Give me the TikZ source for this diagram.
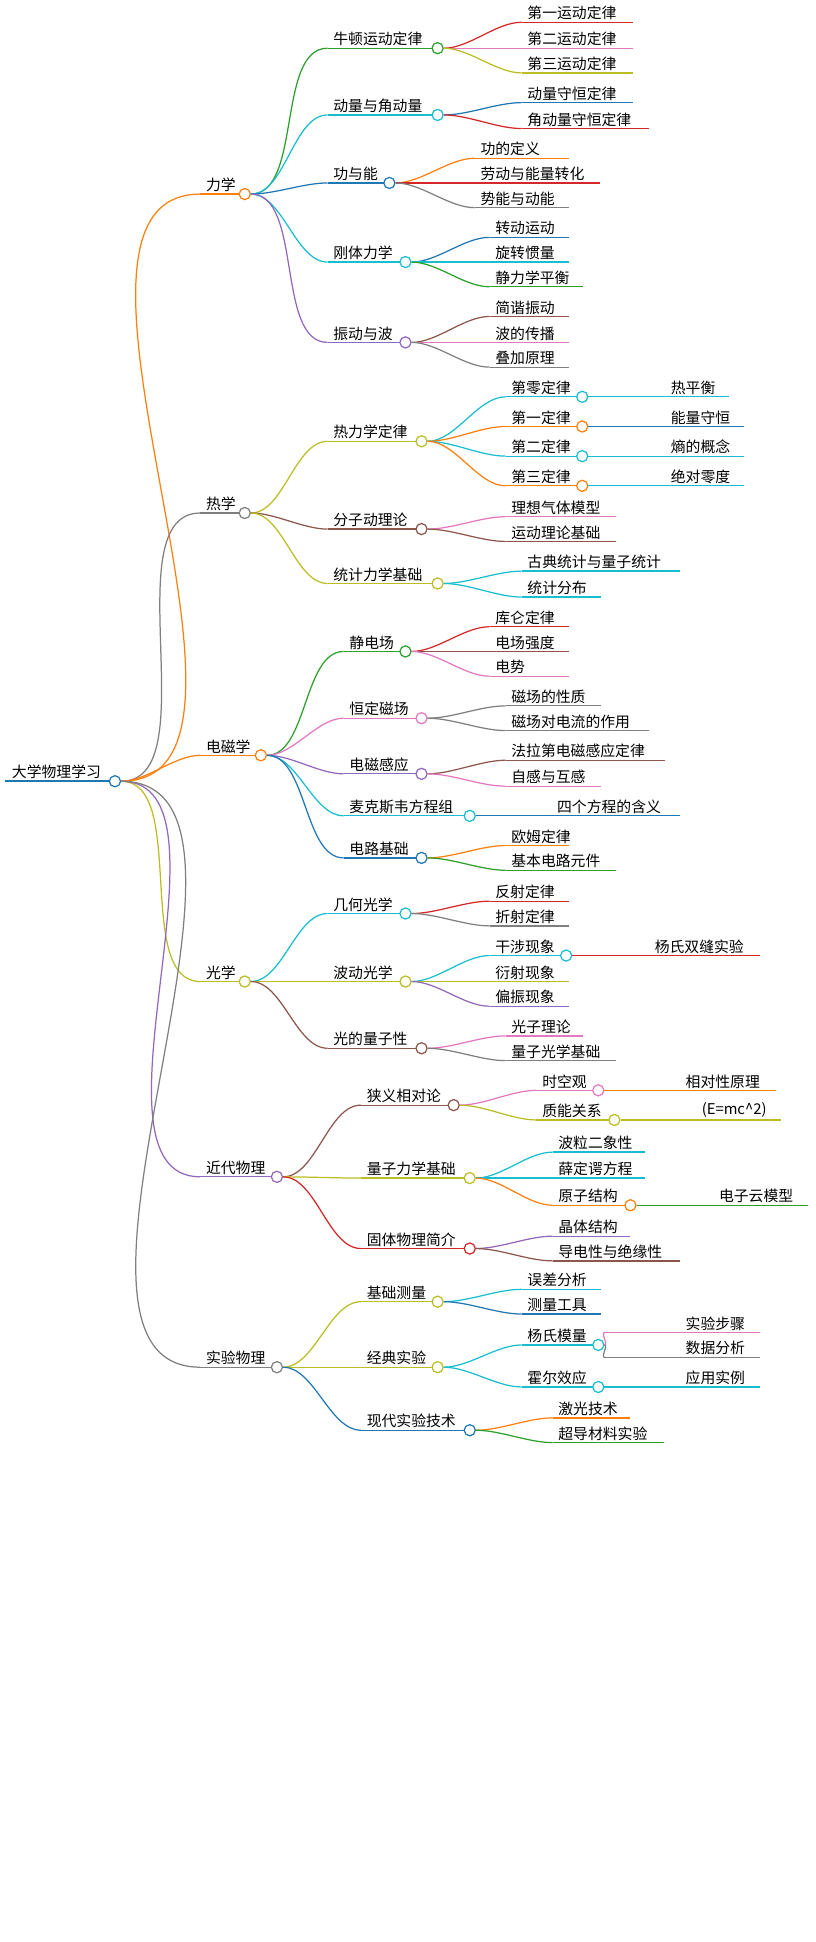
\documentclass[tikz,border=0pt]{standalone}
\usepackage{fontspec}
\newfontfamily\cjk{Noto Sans CJK SC}
\definecolor{cR}{HTML}{D62728}\definecolor{cP}{HTML}{E377C2}\definecolor{cO}{HTML}{BCBD22}
\definecolor{cB}{HTML}{1F77B4}\definecolor{cC}{HTML}{17BECF}\definecolor{cA}{HTML}{FF7F0E}
\definecolor{cG}{HTML}{2CA02C}\definecolor{cY}{HTML}{7F7F7F}\definecolor{cU}{HTML}{9467BD}
\definecolor{cN}{HTML}{8C564B}
\tikzset{edge/.style={line width=1pt},
 lbl/.style={anchor=south west,inner sep=1.5pt,font=\cjk\fontsize{12}{13}\selectfont},
 knob/.style={circle,fill=white,line width=1pt,minimum size=9pt,inner sep=0pt}}
% parent,name,x0,tx,x1,y,color,text,circle
\newcommand\nd[9]{%
 \coordinate (#2-w) at (#3,#6); \coordinate (#2-e) at (#5,#6);
 \draw[edge,#7] (#2-w) -- (#2-e);
 \node[lbl] (#2-t) at (#4,#6) {#8};
 \draw[edge,#7] (#1-c.east) to[out=0,in=180,looseness=0.8] (#2-w);
 \ifnum#9=1 \node[knob,draw=#7] (#2-c) at (#2-e) {};\fi}
\begin{document}
\begin{tikzpicture}[x=1pt,y=-1pt]
\useasboundingbox (0,0) rectangle (660,1571);
\coordinate (r-w) at (4,632); \coordinate (r-e) at (93,632);
\draw[cB,line width=2pt] (r-w) -- (r-e);
\node[lbl] (r-t) at (8,632) {大学物理学习};
\node[knob,draw=cB] (r-c) at (r-e) {};
% level 1
\nd{r}{a}{162}{165}{198}{157}{cA}{力学}{1}
\nd{r}{b}{162}{165}{198}{415}{cY}{热学}{1}
\nd{r}{c}{162}{165}{211}{611}{cA}{电磁学}{1}
\nd{r}{d}{162}{165}{198}{794}{cO}{光学}{1}
\nd{r}{e}{162}{165}{224}{952}{cU}{近代物理}{1}
\nd{r}{f}{162}{165}{224}{1106}{cY}{实验物理}{1}
% 力学
\nd{a}{a1}{265}{268}{354}{39}{cG}{牛顿运动定律}{1}
\nd{a}{a2}{265}{268}{354}{93}{cC}{动量与角动量}{1}
\nd{a}{a3}{265}{268}{315}{148}{cB}{功与能}{1}
\nd{a}{a4}{265}{268}{328}{212}{cC}{刚体力学}{1}
\nd{a}{a5}{265}{268}{328}{277}{cU}{振动与波}{1}
\nd{a1}{a11}{422}{425}{512}{18}{cR}{第一运动定律}{0}
\nd{a1}{a12}{422}{425}{512}{39}{cP}{第二运动定律}{0}
\nd{a1}{a13}{422}{425}{512}{59}{cO}{第三运动定律}{0}
\nd{a2}{a21}{422}{425}{512}{83}{cB}{动量守恒定律}{0}
\nd{a2}{a22}{422}{425}{525}{104}{cR}{角动量守恒定律}{0}
\nd{a3}{a31}{384}{387}{460}{128}{cA}{功的定义}{0}
\nd{a3}{a32}{384}{387}{485}{148}{cR}{劳动与能量转化}{0}
\nd{a3}{a33}{384}{387}{460}{168}{cY}{势能与动能}{0}
\nd{a4}{a41}{396}{399}{460}{192}{cB}{转动运动}{0}
\nd{a4}{a42}{396}{399}{460}{212}{cC}{旋转惯量}{0}
\nd{a4}{a43}{396}{399}{472}{232}{cG}{静力学平衡}{0}
\nd{a5}{a51}{396}{399}{460}{256}{cN}{简谐振动}{0}
\nd{a5}{a52}{396}{399}{460}{277}{cP}{波的传播}{0}
\nd{a5}{a53}{396}{399}{460}{297}{cY}{叠加原理}{0}
% 热学
\nd{b}{b1}{265}{268}{341}{357}{cO}{热力学定律}{1}
\nd{b}{b2}{265}{268}{341}{428}{cN}{分子动理论}{1}
\nd{b}{b3}{265}{268}{354}{472}{cO}{统计力学基础}{1}
\nd{b1}{b11}{409}{412}{471}{321}{cC}{第零定律}{1}
\nd{b1}{b12}{409}{412}{471}{345}{cA}{第一定律}{1}
\nd{b1}{b13}{409}{412}{471}{369}{cC}{第二定律}{1}
\nd{b1}{b14}{409}{412}{471}{393}{cA}{第三定律}{1}
\nd{b11}{b111}{476}{541}{590}{321}{cC}{热平衡}{0}
\nd{b12}{b121}{476}{541}{602}{345}{cB}{能量守恒}{0}
\nd{b13}{b131}{476}{541}{602}{369}{cC}{熵的概念}{0}
\nd{b14}{b141}{476}{541}{602}{393}{cC}{绝对零度}{0}
\nd{b2}{b21}{409}{412}{498}{418}{cP}{理想气体模型}{0}
\nd{b2}{b22}{409}{412}{498}{438}{cN}{运动理论基础}{0}
\nd{b3}{b31}{422}{425}{550}{462}{cC}{古典统计与量子统计}{0}
\nd{b3}{b32}{422}{425}{486}{483}{cC}{统计分布}{0}
% 电磁学
\nd{c}{c1}{278}{281}{328}{527}{cG}{静电场}{1}
\nd{c}{c2}{278}{281}{341}{581}{cP}{恒定磁场}{1}
\nd{c}{c3}{278}{281}{341}{626}{cU}{电磁感应}{1}
\nd{c}{c4}{278}{281}{380}{660}{cC}{麦克斯韦方程组}{1}
\nd{c}{c5}{278}{281}{341}{694}{cB}{电路基础}{1}
\nd{c1}{c11}{396}{399}{460}{507}{cR}{库仑定律}{0}
\nd{c1}{c12}{396}{399}{460}{527}{cN}{电场强度}{0}
\nd{c1}{c13}{396}{399}{460}{547}{cP}{电势}{0}
\nd{c2}{c21}{409}{412}{486}{571}{cY}{磁场的性质}{0}
\nd{c2}{c22}{409}{412}{525}{591}{cY}{磁场对电流的作用}{0}
\nd{c3}{c31}{409}{412}{538}{615}{cN}{法拉第电磁感应定律}{0}
\nd{c3}{c32}{409}{412}{486}{636}{cP}{自感与互感}{0}
\nd{c4}{c41}{385}{449}{550}{660}{cB}{四个方程的含义}{0}
\nd{c5}{c51}{409}{412}{460}{684}{cA}{欧姆定律}{0}
\nd{c5}{c52}{409}{412}{498}{704}{cG}{基本电路元件}{0}
% 光学
\nd{d}{d1}{265}{268}{328}{739}{cC}{几何光学}{1}
\nd{d}{d2}{265}{268}{328}{794}{cO}{波动光学}{1}
\nd{d}{d3}{265}{268}{341}{848}{cN}{光的量子性}{1}
\nd{d1}{d11}{396}{399}{460}{729}{cR}{反射定律}{0}
\nd{d1}{d12}{396}{399}{460}{749}{cY}{折射定律}{0}
\nd{d2}{d21}{396}{399}{458}{773}{cC}{干涉现象}{1}
\nd{d2}{d22}{396}{399}{460}{794}{cO}{衍射现象}{0}
\nd{d2}{d23}{396}{399}{460}{814}{cU}{偏振现象}{0}
\nd{d21}{d211}{463}{528}{615}{773}{cR}{杨氏双缝实验}{0}
\nd{d3}{d31}{409}{412}{472}{838}{cP}{光子理论}{0}
\nd{d3}{d32}{409}{412}{498}{858}{cY}{量子光学基础}{0}
% 近代物理
\nd{e}{e1}{292}{295}{367}{894}{cN}{狭义相对论}{1}
\nd{e}{e2}{292}{295}{380}{953}{cO}{量子力学基础}{1}
\nd{e}{e3}{292}{295}{380}{1010}{cR}{固体物理简介}{1}
\nd{e1}{e11}{434}{437}{484}{882}{cP}{时空观}{1}
\nd{e1}{e12}{434}{437}{497}{906}{cO}{质能关系}{1}
\nd{e11}{e111}{489}{553}{628}{882}{cA}{相对性原理}{0}
\nd{e12}{e121}{502}{566}{632}{906}{cO}{(E=mc\^{}2)}{0}
\nd{e2}{e21}{447}{450}{522}{932}{cC}{波粒二象性}{0}
\nd{e2}{e22}{447}{450}{522}{953}{cC}{薛定谔方程}{0}
\nd{e2}{e23}{447}{450}{510}{975}{cA}{原子结构}{1}
\nd{e23}{e231}{515}{580}{654}{975}{cG}{电子云模型}{0}
\nd{e3}{e31}{447}{450}{510}{1000}{cU}{晶体结构}{0}
\nd{e3}{e32}{447}{450}{550}{1020}{cN}{导电性与绝缘性}{0}
% 实验物理
\nd{f}{f1}{292}{295}{354}{1053}{cO}{基础测量}{1}
\nd{f}{f2}{292}{295}{354}{1106}{cO}{经典实验}{1}
\nd{f}{f3}{292}{295}{380}{1157}{cB}{现代实验技术}{1}
\nd{f1}{f11}{422}{425}{486}{1043}{cC}{误差分析}{0}
\nd{f1}{f12}{422}{425}{486}{1063}{cB}{测量工具}{0}
\nd{f2}{f21}{422}{425}{484}{1088}{cC}{杨氏模量}{1}
\nd{f2}{f22}{422}{425}{484}{1122}{cC}{霍尔效应}{1}
\nd{f21}{f211}{489}{553}{615}{1078}{cP}{实验步骤}{0}
\nd{f21}{f212}{489}{553}{615}{1098}{cY}{数据分析}{0}
\nd{f22}{f221}{489}{553}{615}{1122}{cC}{应用实例}{0}
\nd{f3}{f31}{447}{450}{510}{1147}{cA}{激光技术}{0}
\nd{f3}{f32}{447}{450}{537}{1167}{cG}{超导材料实验}{0}
\end{tikzpicture}
\end{document}
